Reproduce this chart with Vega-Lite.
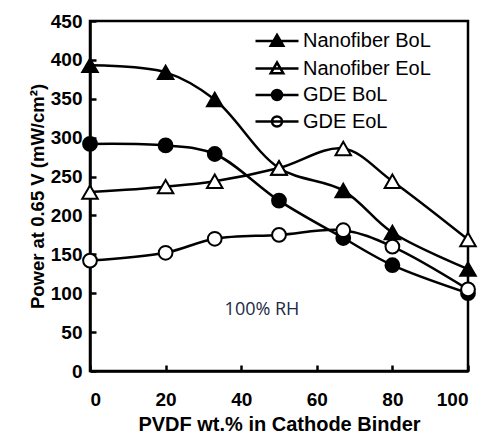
{
  "$schema": "https://vega.github.io/schema/vega-lite/v6.json",
  "width": 378,
  "height": 350,
  "autosize": "none",
  "padding": {"left": 90, "top": 21, "right": 20, "bottom": 62},
  "background": "white",
  "config": {
    "view": {"stroke": "black", "strokeWidth": 2.5},
    "font": "Liberation Sans",
    "axis": {
      "domainColor": "black", "domainWidth": 2.5, "tickColor": "black", "tickWidth": 2.5,
      "tickSize": -6, "grid": false, "labelFont": "Liberation Sans", "labelFontWeight": "bold",
      "labelFontSize": 19, "labelColor": "black", "titleFont": "Liberation Sans",
      "titleFontWeight": "bold", "titleColor": "black"
    }
  },
  "datasets": {
    "series": [
      {"series": "Nanofiber BoL", "x": 0, "y": 393},
      {"series": "Nanofiber BoL", "x": 20, "y": 384},
      {"series": "Nanofiber BoL", "x": 33, "y": 349},
      {"series": "Nanofiber BoL", "x": 50, "y": 261},
      {"series": "Nanofiber BoL", "x": 67, "y": 232},
      {"series": "Nanofiber BoL", "x": 80, "y": 178},
      {"series": "Nanofiber BoL", "x": 100, "y": 131},
      {"series": "Nanofiber EoL", "x": 0, "y": 230},
      {"series": "Nanofiber EoL", "x": 20, "y": 237},
      {"series": "Nanofiber EoL", "x": 33, "y": 244},
      {"series": "Nanofiber EoL", "x": 50, "y": 261},
      {"series": "Nanofiber EoL", "x": 67, "y": 286},
      {"series": "Nanofiber EoL", "x": 80, "y": 244},
      {"series": "Nanofiber EoL", "x": 100, "y": 169},
      {"series": "GDE BoL", "x": 0, "y": 292},
      {"series": "GDE BoL", "x": 20, "y": 290},
      {"series": "GDE BoL", "x": 33, "y": 279},
      {"series": "GDE BoL", "x": 50, "y": 219},
      {"series": "GDE BoL", "x": 67, "y": 171},
      {"series": "GDE BoL", "x": 80, "y": 136},
      {"series": "GDE BoL", "x": 100, "y": 100},
      {"series": "GDE EoL", "x": 0, "y": 142},
      {"series": "GDE EoL", "x": 20, "y": 152},
      {"series": "GDE EoL", "x": 33, "y": 170},
      {"series": "GDE EoL", "x": 50, "y": 175},
      {"series": "GDE EoL", "x": 67, "y": 181},
      {"series": "GDE EoL", "x": 80, "y": 160},
      {"series": "GDE EoL", "x": 100, "y": 105}
    ],
    "note": [{"x": 45.5, "y": 78, "label": "100% RH"}]
  },
  "encoding": {
    "x": {"field": "x", "type": "quantitative", "scale": {"domain": [0, 100], "nice": false},
      "axis": {"values": [0, 20, 40, 60, 80, 100], "title": "PVDF wt.% in Cathode Binder", "titleFontSize": 20, "labelPadding": 25, "titlePadding": 5}},
    "y": {"field": "y", "type": "quantitative", "scale": {"domain": [0, 450], "nice": false},
      "axis": {"values": [0, 50, 100, 150, 200, 250, 300, 350, 400, 450], "title": "Power at 0.65 V (mW/cm²)", "titleFontSize": 18.5, "labelPadding": 14, "titlePadding": 3}}
  },
  "layer": [
    {
      "data": {"name": "series"},
      "mark": {"type": "line", "interpolate": "catmull-rom", "color": "black", "strokeWidth": 2.5},
      "encoding": {"detail": {"field": "series"}}
    },
    {
      "data": {"name": "series"},
      "transform": [{"filter": "false"}],
      "mark": {"type": "point", "filled": false, "stroke": "black", "strokeWidth": 2.5, "opacity": 1},
      "encoding": {
        "shape": {"field": "series", "type": "nominal",
          "scale": {"domain": ["Nanofiber BoL", "Nanofiber EoL", "GDE BoL", "GDE EoL"],
            "range": ["M-4.3,0H4.3M0,-1.2L1.25,0.95H-1.25Z", "M-4.3,0H4.3M0,-1.2L1.25,0.95H-1.25Z", "M-4.3,0H4.3M1,0A1,1 0 1,1 -1,0A1,1 0 1,1 1,0Z", "M-4.3,0H4.3M1,0A1,1 0 1,1 -1,0A1,1 0 1,1 1,0Z"]},
          "legend": {
            "title": null, "orient": "none", "legendX": 177, "legendY": 10,
            "symbolSize": 100, "labelFontSize": 20, "labelFont": "Liberation Sans", "labelColor": "black",
            "labelOffset": 16, "rowPadding": 6.5, "symbolStrokeWidth": 2.5
          }},
        "fill": {"field": "series", "type": "nominal",
          "scale": {"domain": ["Nanofiber BoL", "Nanofiber EoL", "GDE BoL", "GDE EoL"], "range": ["black", "white", "black", "white"]},
          "legend": {
            "title": null, "orient": "none", "legendX": 177, "legendY": 10,
            "symbolSize": 100, "labelFontSize": 20, "labelFont": "Liberation Sans", "labelColor": "black",
            "labelOffset": 16, "rowPadding": 6.5, "symbolStrokeWidth": 2.5
          }}
      }
    },
    {
      "data": {"name": "series"},
      "transform": [{"filter": "test(/Nanofiber/, datum.series)"}],
      "mark": {"type": "point", "shape": "triangle-up", "size": 240, "stroke": "black", "strokeWidth": 2, "opacity": 1, "fillOpacity": 1},
      "encoding": {
        "fill": {"condition": {"test": "test(/BoL/, datum.series)", "value": "black"}, "value": "white"}
      }
    },
    {
      "data": {"name": "series"},
      "transform": [{"filter": "test(/GDE/, datum.series)"}],
      "mark": {"type": "point", "shape": "circle", "size": 190, "stroke": "black", "strokeWidth": 2, "opacity": 1, "fillOpacity": 1},
      "encoding": {
        "fill": {"condition": {"test": "test(/BoL/, datum.series)", "value": "black"}, "value": "white"}
      }
    },
    {
      "data": {"name": "note"},
      "mark": {"type": "text", "font": "Open Sans", "fontSize": 18, "color": "#1b2a45"},
      "encoding": {"text": {"field": "label"}}
    }
  ]
}
